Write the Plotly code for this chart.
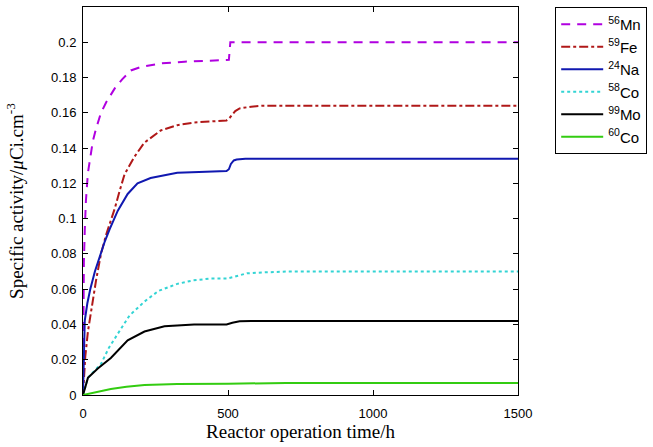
import plotly.graph_objects as go

# ---- data ----
t_mn = [0, 1, 3, 6, 10, 17, 25, 34, 45, 62, 80, 110, 135, 165, 200, 268, 350, 420, 486, 503, 508, 600, 800, 1000, 1200, 1500]
v_mn = [0, 0.04, 0.075, 0.093, 0.11, 0.126, 0.136, 0.144, 0.151, 0.160, 0.166, 0.174, 0.179, 0.184, 0.186, 0.188, 0.189, 0.1895, 0.190, 0.190, 0.200, 0.200, 0.200, 0.200, 0.200, 0.200]

t_fe = [0, 3, 8, 17, 30, 45, 62, 80, 96, 110, 125, 143, 177, 211, 268, 325, 383, 450, 495, 505, 515, 525, 540, 558, 580, 620, 700, 1000, 1500]
v_fe = [0, 0.012, 0.022, 0.036, 0.050, 0.065, 0.080, 0.091, 0.099, 0.106, 0.115, 0.125, 0.135, 0.143, 0.150, 0.153, 0.1545, 0.155, 0.1557, 0.157, 0.159, 0.161, 0.1625, 0.163, 0.1635, 0.164, 0.164, 0.164, 0.164]

t_na = [0, 2, 6, 15, 25, 41, 58, 75, 92, 120, 154, 188, 233, 325, 400, 495, 503, 510, 520, 530, 560, 700, 1000, 1500]
v_na = [0, 0.020, 0.042, 0.052, 0.060, 0.070, 0.079, 0.087, 0.094, 0.1045, 0.114, 0.120, 0.123, 0.126, 0.1265, 0.127, 0.128, 0.131, 0.133, 0.1335, 0.134, 0.134, 0.134, 0.134]

t_co58 = [0, 6, 17, 35, 51, 62, 90, 120, 160, 212, 260, 325, 380, 438, 495, 520, 565, 620, 700, 1000, 1500]
v_co58 = [0, 0.004, 0.0097, 0.013, 0.0155, 0.0176, 0.027, 0.035, 0.045, 0.053, 0.059, 0.063, 0.065, 0.066, 0.066, 0.067, 0.069, 0.0695, 0.070, 0.070, 0.070]

t_mo = [0, 6, 17, 51, 96, 154, 212, 281, 383, 495, 515, 540, 580, 700, 1000, 1500]
v_mo = [0, 0.004, 0.0097, 0.015, 0.021, 0.031, 0.036, 0.039, 0.040, 0.040, 0.041, 0.0418, 0.042, 0.042, 0.042, 0.042]

t_co60 = [0, 50, 96, 150, 212, 270, 325, 500, 560, 700, 1000, 1500]
v_co60 = [0, 0.0018, 0.0034, 0.0047, 0.0057, 0.0060, 0.0062, 0.0064, 0.0066, 0.0068, 0.0068, 0.0068]

x_ticks = [0, 500, 1000, 1500]
y_ticks = [0, 0.02, 0.04, 0.06, 0.08, 0.1, 0.12, 0.14, 0.16, 0.18, 0.2]
y_tick_text = ["0", "0.02", "0.04", "0.06", "0.08", "0.1", "0.12", "0.14", "0.16", "0.18", "0.2"]

series = [
    ("<sup>56</sup>Mn", t_mn, v_mn, "#b000e0", "9px,7px"),
    ("<sup>59</sup>Fe", t_fe, v_fe, "#b01818", "dashdot"),
    ("<sup>24</sup>Na", t_na, v_na, "#1018b0", "solid"),
    ("<sup>58</sup>Co", t_co58, v_co58, "#33d4d4", "dot"),
    ("<sup>99</sup>Mo", t_mo, v_mo, "#000000", "solid"),
    ("<sup>60</sup>Co", t_co60, v_co60, "#33cc11", "solid"),
]

fig = go.Figure()
for name, t, v, c, d in series:
    fig.add_trace(go.Scatter(x=t, y=v, mode="lines", name=name,
                             line=dict(color=c, width=2, dash=d)))

axis_common = dict(showline=True, linecolor="black", linewidth=1, mirror="ticks",
                   ticks="inside", ticklen=5, tickcolor="black", showgrid=False,
                   zeroline=False,
                   tickfont=dict(family="Liberation Sans, Arial", size=13, color="black"))

fig.update_layout(
    width=653, height=447,
    margin=dict(l=83, r=134, t=7, b=52),
    paper_bgcolor="white", plot_bgcolor="white",
    xaxis=dict(range=[0, 1500], tickvals=x_ticks, ticktext=[str(x) for x in x_ticks],
               ticklabelstandoff=6,
               title=dict(text="Reactor operation time/h", standoff=5,
                          font=dict(family="Liberation Serif, Times New Roman", size=19, color="black")),
               **axis_common),
    yaxis=dict(range=[0, 0.22], tickvals=y_ticks, ticktext=y_tick_text,
               ticklabelstandoff=3,
               title=dict(text="Specific activity/<i>μ</i>Ci.cm<sup>-3</sup>", standoff=22,
                          font=dict(family="Liberation Serif, Times New Roman", size=19, color="black")),
               **axis_common),
    legend=dict(x=1.083, y=1.0, xanchor="left", yanchor="top",
                bordercolor="black", borderwidth=1, bgcolor="white",
                font=dict(family="Liberation Sans, Arial", size=15, color="black"),
                itemwidth=42, tracegroupgap=0),
    showlegend=True,
)

fig.write_html("out.html", config={"displayModeBar": False},
               post_script="document.body.style.margin='0';")
